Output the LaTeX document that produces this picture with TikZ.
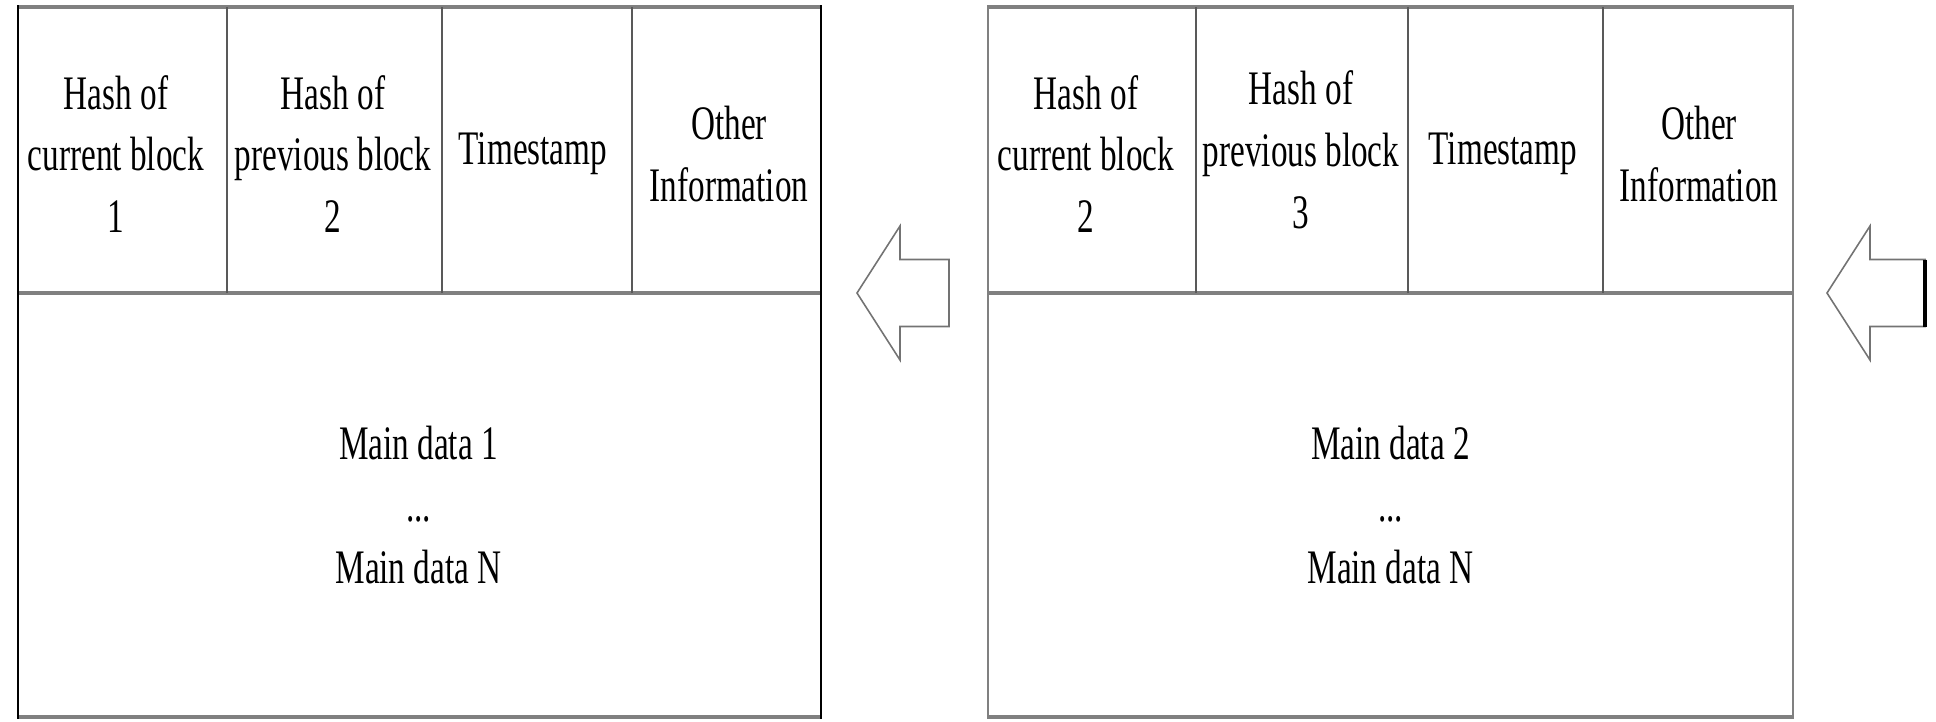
\documentclass[tikz,border=0pt]{standalone}
\usepackage{fontspec}
\setmainfont{Liberation Serif}[FakeStretch=0.69]

\begin{document}
\begin{tikzpicture}[y=-1cm,
	rim/.style={draw=black!50, line width=1.1pt},
	side/.style={draw=black, line width=0.6pt},
	sep/.style={draw=black!65, line width=0.45pt},
	field/.style={align=center, inner sep=0pt, font=\fontsize{13.7}{17.6}\selectfont},
	shell/.style={draw=black!55, line width=0.45pt, line join=miter}]
\def\d{9.70}
\useasboundingbox (0,0) rectangle (19.36,7.21);

% first block
\begin{scope}
	\draw [rim] (0.18, 0.07)  --  (8.21, 0.07);
	\draw [rim] (0.18, 2.93)  --  (8.21, 2.93);
	\draw [rim] (0.18, 7.17)  --  (8.21, 7.17);
	\draw [side] (0.18, 0.05)  --  (0.18, 7.19);
	\draw [side] (8.21, 0.05)  --  (8.21, 7.19);
	\draw [sep] (2.27, 0.07)  --  (2.27, 2.93);
	\draw [sep] (4.42, 0.07)  --  (4.42, 2.93);
	\draw [sep] (6.32, 0.07)  --  (6.32, 2.93);

	\node [field] (cur1) at (1.16, 1.54) {Hash of\\current block\\1};
	\node [field] (prev1) at (3.33, 1.54) {Hash of\\previous block\\2};
	\node [field] (time1) at (5.33, 1.54) {Timestamp};
	\node [field] (other1) at (7.29, 1.54) {Other\\Information};
	\node [field] (data1) at (4.185, 5.05) {Main data 1\\...\\Main data N};

	\draw [shell] (8.57, 2.93) -- (9.00, 2.26) -- (9.00, 2.595) -- (9.49, 2.595)
		-- (9.49, 3.265) -- (9.00, 3.265) -- (9.00, 3.60) -- cycle;
\end{scope}

% second block
\begin{scope}[xshift = 1*\d cm]
	\draw [rim] (0.18, 0.07)  --  (8.23, 0.07);
	\draw [rim] (0.18, 2.93)  --  (8.23, 2.93);
	\draw [rim] (0.18, 7.17)  --  (8.23, 7.17);
	\draw [rim, line width=0.6pt] (0.18, 0.05)  --  (0.18, 7.19);
	\draw [rim, line width=0.6pt] (8.23, 0.05)  --  (8.23, 7.19);
	\draw [sep] (2.26, 0.07)  --  (2.26, 2.93);
	\draw [sep] (4.38, 0.07)  --  (4.38, 2.93);
	\draw [sep] (6.33, 0.07)  --  (6.33, 2.93);

	\node [field] (cur2) at (1.16, 1.54) {Hash of\\current block\\2};
	\node [field] (prev2) at (3.31, 1.50) {Hash of\\previous block\\3};
	\node [field] (time2) at (5.33, 1.54) {Timestamp};
	\node [field] (other2) at (7.29, 1.54) {Other\\Information};
	\node [field] (data2) at (4.205, 5.05) {Main data 2\\...\\Main data N};

	\draw [shell] (8.57, 2.93) -- (9.00, 2.26) -- (9.00, 2.595) -- (9.55, 2.595)
		-- (9.55, 3.265) -- (9.00, 3.265) -- (9.00, 3.60) -- cycle;
	\draw [side, line width=0.9pt] (9.55, 2.595) -- (9.55, 3.265);
\end{scope}

\end{tikzpicture}
\end{document}
